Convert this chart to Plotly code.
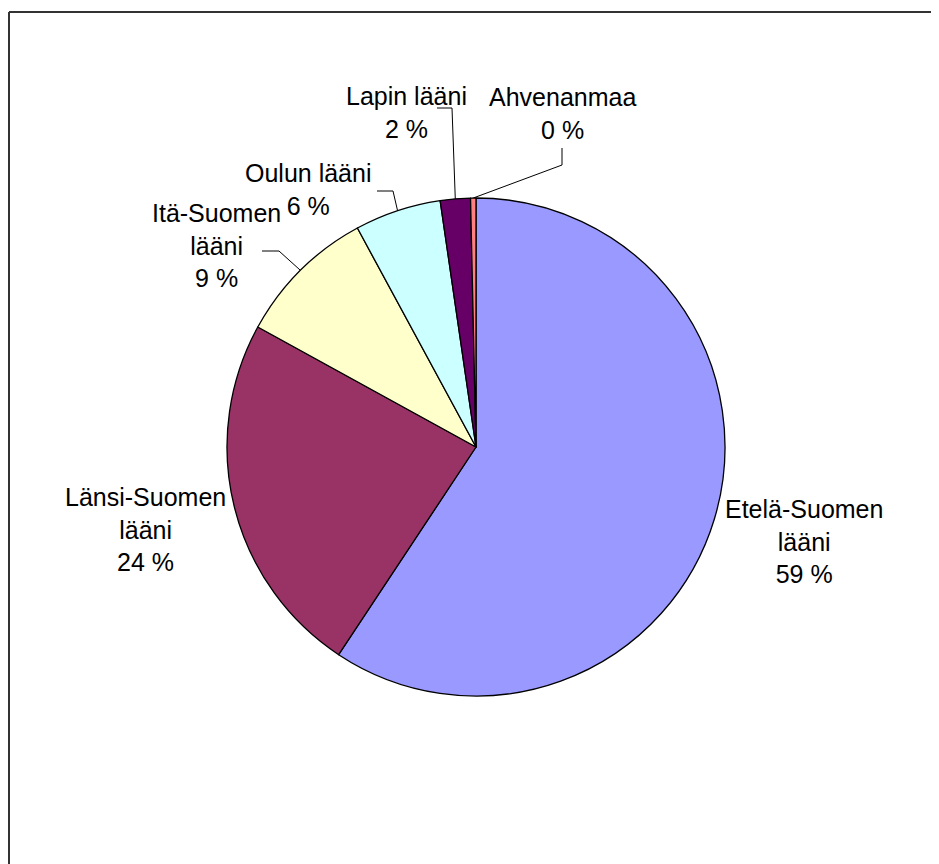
import math
import plotly.graph_objects as go

# ---- data ----
regions = ["Etelä-Suomen lääni", "Länsi-Suomen lääni", "Itä-Suomen lääni",
           "Oulun lääni", "Lapin lääni", "Ahvenanmaa"]
shares = [59.3, 23.7, 9.1, 5.6, 1.95, 0.35]
label_text = ["Etelä-Suomen<br>lääni<br>59 %", "Länsi-Suomen<br>lääni<br>24 %",
              "Itä-Suomen<br>lääni<br>9 %", "Oulun lääni<br>6 %",
              "Lapin lääni<br>2 %", "Ahvenanmaa<br>0 %"]
colors = ["#9999FF", "#993366", "#FFFFCC", "#CCFFFF", "#660066", "#FF8080"]

# ---- layout (page pixels) ----
W, H = 939, 864
OFF = 8  # page body margin
CX, CY, R = 476, 447, 249
label_pos = [(804, 541), (145, 529), (216, 245), (308, 189), (406, 112), (562, 113)]
leaders = [None, None,
           [(279, 251), (262, 251)],
           [(393, 191), (377, 191)],
           [(452, 108), (437, 108)],
           [(562, 165), (562, 148)]]

fig = go.Figure()
fig.add_trace(go.Pie(
    labels=regions, values=shares, sort=False, direction="clockwise", rotation=0,
    marker=dict(colors=colors, line=dict(color="black", width=1.3)),
    textinfo="none", hoverinfo="label+percent", showlegend=False,
    domain=dict(x=[(CX - OFF - R) / W, (CX - OFF + R) / W],
                y=[1 - (CY - OFF + R) / H, 1 - (CY - OFF - R) / H]),
))

total = sum(shares)
cum = 0.0
for i, v in enumerate(shares):
    mid = (cum + v / 2) / total * 2 * math.pi
    cum += v
    if leaders[i]:
        sx = CX + R * math.sin(mid)
        sy = CY - R * math.cos(mid)
        pts = [(sx, sy)] + leaders[i]
        fig.add_trace(go.Scatter(x=[p[0] for p in pts], y=[p[1] for p in pts],
                                 mode="lines", line=dict(color="black", width=1),
                                 hoverinfo="skip", showlegend=False))
    lx, ly = label_pos[i]
    fig.add_annotation(x=lx, y=ly, xref="x", yref="y", text=label_text[i],
                       showarrow=False, xanchor="center", yanchor="middle",
                       font=dict(family="Liberation Sans, Arial", size=25, color="black"))

# frame (top and left edges), in paper coordinates
fx = 1.0 / W
fy = 1 - 4.0 / H
fig.add_shape(type="line", xref="paper", yref="paper", x0=fx, x1=fx, y0=0, y1=fy,
              line=dict(color="#333333", width=2))
fig.add_shape(type="line", xref="paper", yref="paper", x0=fx, x1=1, y0=fy, y1=fy,
              line=dict(color="#333333", width=2))

fig.update_layout(
    width=W, height=H, margin=dict(l=0, r=0, t=0, b=0),
    paper_bgcolor="white", plot_bgcolor="rgba(0,0,0,0)",
    xaxis=dict(range=[OFF, W + OFF], visible=False, fixedrange=True),
    yaxis=dict(range=[H + OFF, OFF], visible=False, fixedrange=True),
)
fig.write_html("out.html")
